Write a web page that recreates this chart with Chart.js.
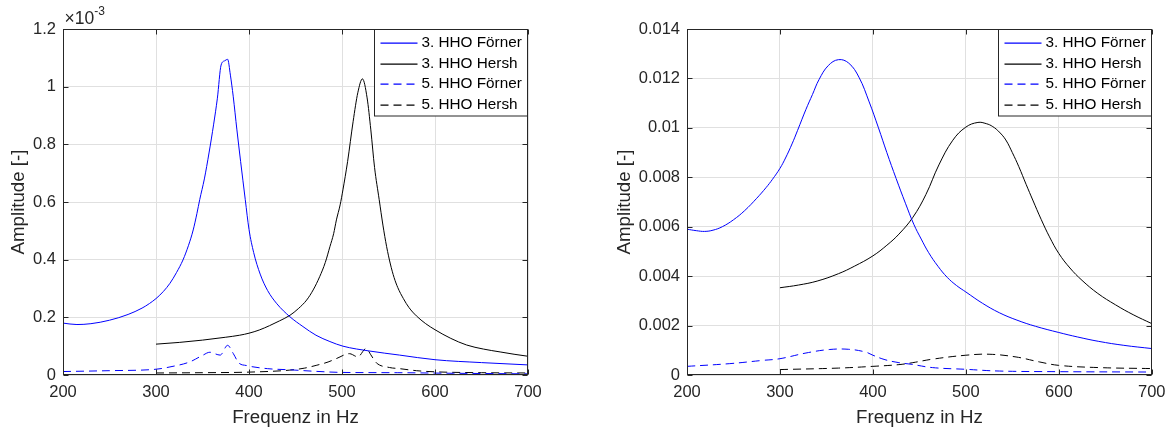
<!DOCTYPE html>
<html><head><meta charset="utf-8">
<script src="https://cdn.jsdelivr.net/npm/chart.js@4/dist/chart.umd.min.js"></script>
<style>
html,body{margin:0;padding:0;background:#fff;width:1173px;height:430px;overflow:hidden;position:relative}
#c1{position:absolute;left:0;top:0}
#c2{position:absolute;left:586px;top:0}
</style></head><body>
<canvas id="c1" width="560" height="430"></canvas>
<canvas id="c2" width="587" height="430"></canvas>
<script>
// ---------- Left plot (amplitude in units of 1e-3) ----------
const freqF3L = [200,215,230,250,270,285,293,300,308,315,322,329,335,340,344,347,352,357,362,366,370,374,377,380,383,387,391,396,400,405,412,420,430,444,458,472,487,501,530,562,600,650,700];
const ampF3L  = [0.18,0.175,0.178,0.19,0.21,0.232,0.248,0.265,0.29,0.318,0.355,0.399,0.45,0.503,0.56,0.608,0.68,0.77,0.87,0.96,1.075,1.09,1.095,1.04,0.967,0.85,0.74,0.608,0.505,0.425,0.35,0.293,0.247,0.202,0.168,0.138,0.116,0.1,0.083,0.069,0.053,0.043,0.035];
const freqH3L = [300,325,350,375,390,400,411,422,433,444,453,462,469,476,482,487,491,494,498,501,506,512,517,522,527,531,535,540,544,548,552,556,560,566,572,580,590,600,617,634,652,670,685,700];
const ampH3L  = [0.107,0.113,0.121,0.131,0.138,0.145,0.156,0.171,0.188,0.207,0.23,0.26,0.295,0.341,0.39,0.445,0.49,0.538,0.59,0.642,0.74,0.88,0.979,1.027,0.961,0.85,0.72,0.608,0.52,0.445,0.385,0.338,0.303,0.265,0.234,0.205,0.178,0.157,0.127,0.104,0.09,0.08,0.072,0.065];
const freqF5L = [200,250,300,315,336,350,358,363,369,377,383,389,397,420,444,470,500,560,620,700];
const ampF5L  = [0.012,0.015,0.02,0.028,0.045,0.068,0.079,0.074,0.069,0.103,0.075,0.042,0.033,0.022,0.018,0.013,0.009,0.008,0.006,0.004];
const freqH5L = [300,350,400,444,460,473,485,494,508,517,526,531,537,551,562,580,600,650,700];
const ampH5L  = [0.007,0.008,0.010,0.017,0.024,0.034,0.045,0.057,0.074,0.063,0.092,0.07,0.042,0.026,0.022,0.015,0.011,0.008,0.007];

// ---------- Right plot ----------
const freqF3R = [200,210,219,228,238,250,262,275,285,292,300,306,313,319,328,335,342,352,363,374,385,396,406,415,425,435,444,452,460,470,480,490,500,518,536,555,575,600,620,643,670,700];
const ampF3R  = [0.0059,0.00584,0.00581,0.00586,0.006,0.00628,0.00665,0.00715,0.00758,0.00792,0.00836,0.00878,0.00935,0.0099,0.01075,0.01135,0.01195,0.01252,0.01276,0.01262,0.01205,0.01105,0.01,0.009,0.00795,0.00695,0.0061,0.0055,0.00495,0.0044,0.00395,0.00362,0.00336,0.0029,0.00252,0.00222,0.00197,0.00172,0.00154,0.00136,0.0012,0.00107];
const freqH3R = [300,320,340,363,380,400,415,428,443,457,471,486,500,513,522,529,536,543,550,557,565,572,581,590,600,612,625,642,661,680,700];
const ampH3R  = [0.00353,0.00364,0.0038,0.0041,0.0044,0.00482,0.00525,0.0057,0.00638,0.0073,0.0085,0.0095,0.01003,0.01022,0.01017,0.01005,0.00983,0.00951,0.009,0.00843,0.0077,0.00708,0.0063,0.00559,0.00492,0.00433,0.00383,0.0033,0.00284,0.00244,0.00208];
const freqF5R = [200,246,281,300,328,353,374,392,400,413,428,442,464,500,536,600,700];
const ampF5R  = [0.00035,0.00046,0.00059,0.00066,0.00089,0.00103,0.00104,0.00093,0.0008,0.00062,0.0005,0.00043,0.0003,0.00023,0.00016,0.000135,0.00012];
const freqH5R = [300,363,400,428,443,464,500,525,554,579,600,643,700];
const ampH5R  = [0.00022,0.00028,0.00035,0.00042,0.0005,0.00064,0.0008,0.00084,0.00073,0.00053,0.00039,0.0003,0.00026];

const seriesNames = ['3. HHO Förner','3. HHO Hersh','5. HHO Förner','5. HHO Hersh'];
const seriesColors = ['#0000ff','#000000','#0000ff','#000000'];
const seriesDash = [[],[],[8,5],[8,5]];
const xTicks = [200,300,400,500,600,700];

const FONT = 'Liberation Sans, Arial, Helvetica, sans-serif';
const TXT = '#262626';

function pts(f, a){ return f.map((x,i)=>({x:x, y:a[i]})); }
function ds(i, f, a, smooth){
  const d = {label:seriesNames[i], data:pts(f,a), borderColor:seriesColors[i], backgroundColor:seriesColors[i],
          borderWidth:1, borderDash:seriesDash[i], pointRadius:0, fill:false};
  if (smooth) { d.cubicInterpolationMode = 'default'; d.tension = 0.4; }
  else { d.cubicInterpolationMode = 'monotone'; }
  return d;
}

const frame = {
  id:'frame',
  afterDraw(chart, args, opts){
    const ctx = chart.ctx, ca = chart.chartArea, xs = chart.scales.x, ys = chart.scales.y;
    ctx.save();
    ctx.strokeStyle = TXT; ctx.lineWidth = 1; ctx.setLineDash([]);
    const L = Math.round(ca.left)+0.5, R = Math.round(ca.right)-0.5, T = Math.round(ca.top)+0.5, B = Math.round(ca.bottom)-0.5;
    ctx.strokeRect(L, T, R-L, B-T);
    ctx.beginPath();
    xs.ticks.forEach(t => { const p = Math.round(xs.getPixelForValue(t.value))+0.5;
      ctx.moveTo(p,B); ctx.lineTo(p,B-5); ctx.moveTo(p,T); ctx.lineTo(p,T+5); });
    ys.ticks.forEach(t => { const p = Math.round(ys.getPixelForValue(t.value))+0.5;
      ctx.moveTo(L,p); ctx.lineTo(L+5,p); ctx.moveTo(R,p); ctx.lineTo(R-5,p); });
    ctx.stroke();
    // legend box
    const w = 153, h = 86.5;
    const bx = R - w, by = T;
    ctx.fillStyle = '#fff';
    ctx.fillRect(bx, by, w, h);
    ctx.strokeStyle = TXT;
    ctx.strokeRect(bx, by, w, h);
    ctx.font = '15.3px ' + FONT;
    ctx.textBaseline = 'middle'; ctx.textAlign = 'left';
    seriesNames.forEach((name,i) => {
      const cy = Math.round(by + 13.5 + i*20.5) + 0.2;
      ctx.beginPath();
      ctx.strokeStyle = seriesColors[i]; ctx.lineWidth = 1.2;
      ctx.setLineDash(seriesDash[i]);
      ctx.moveTo(bx+6, cy); ctx.lineTo(bx+43, cy);
      ctx.stroke();
      ctx.setLineDash([]);
      ctx.fillStyle = '#000';
      ctx.fillText(name, bx+47, cy);
    });
    if (opts && opts.exponent) {
      ctx.fillStyle = TXT;
      ctx.textBaseline = 'alphabetic';
      ctx.font = '17.5px ' + FONT;
      ctx.fillText('×10', L+1, 24);
      const w10 = ctx.measureText('×10').width;
      ctx.font = '12px ' + FONT;
      ctx.fillText('-3', L+1+w10, 15);
    }
    ctx.restore();
  }
};

function makeChart(id, datasets, yMax, yStep, yTitlePad, yWidth, padRight, exponent){
  return new Chart(document.getElementById(id), {
    type:'line',
    data:{datasets:datasets},
    plugins:[frame],
    options:{
      responsive:false, animation:false, devicePixelRatio:1,
      layout:{padding:{top:29, right:padRight, bottom:0, left:0}},
      plugins:{legend:{display:false}, tooltip:{enabled:false}, frame:{exponent:exponent}},
      scales:{
        x:{type:'linear', min:200, max:700,
           afterBuildTicks(s){ s.ticks = xTicks.map(v=>({value:v})); },
           ticks:{color:TXT, font:{family:FONT, size:16.5}, padding:7.5, maxRotation:0,
                  callback:v=>String(v)},
           grid:{color:'#e0e0e0', drawTicks:false, lineWidth:1},
           border:{display:false},
           title:{display:true, text:'Frequenz in Hz', color:TXT, font:{family:FONT, size:18.7}, padding:{top:0,bottom:1.3}},
           afterFit(s){ s.height = 55; }
        },
        y:{type:'linear', min:0, max:yMax,
           ticks:{stepSize:yStep, color:TXT, font:{family:FONT, size:16.5}, padding:7,
                  callback:v=>String(+(+v).toFixed(6))},
           grid:{color:'#e0e0e0', drawTicks:false, lineWidth:1},
           border:{display:false},
           title:{display:true, text:'Amplitude [-]', color:TXT, font:{family:FONT, size:18.7}, padding:{top:yTitlePad,bottom:0}},
           afterFit(s){ s.width = yWidth; }
        }
      }
    }
  });
}

makeChart('c1', [
  ds(0, freqF3L, ampF3L, false), ds(1, freqH3L, ampH3L, false), ds(2, freqF5L, ampF5L, false), ds(3, freqH5L, ampH5L, false)
], 1.2, 0.2, 7.8, 63, 32, true);

makeChart('c2', [
  ds(0, freqF3R, ampF3R, true), ds(1, freqH3R, ampH3R, true), ds(2, freqF5R, ampF5R, true), ds(3, freqH5R, ampH5R, true)
], 0.014, 0.002, 27.8, 101, 20, false);
</script>
</body></html>
